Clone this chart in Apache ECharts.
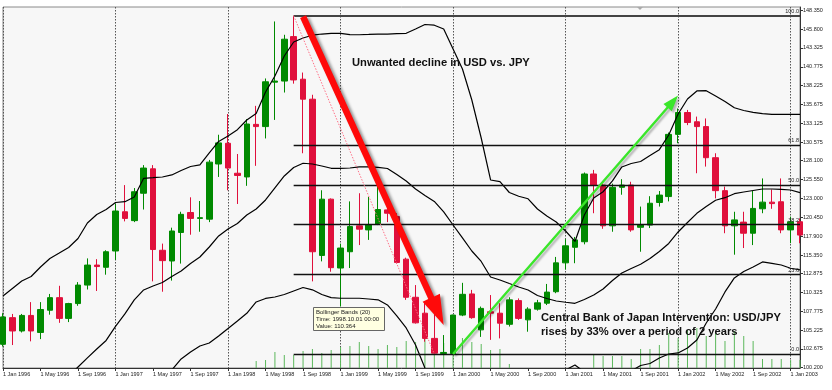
<!DOCTYPE html>
<html><head><meta charset="utf-8">
<script src="https://cdn.jsdelivr.net/npm/echarts@6/dist/echarts.min.js"></script>
<style>html,body{margin:0;padding:0;background:#fff}#c{width:832px;height:390px}</style>
</head><body><div id="c"></div>
<script>
const months = ['1996-01','1996-02','1996-03','1996-04','1996-05','1996-06','1996-07','1996-08','1996-09','1996-10','1996-11','1996-12',
'1997-01','1997-02','1997-03','1997-04','1997-05','1997-06','1997-07','1997-08','1997-09','1997-10','1997-11','1997-12',
'1998-01','1998-02','1998-03','1998-04','1998-05','1998-06','1998-07','1998-08','1998-09','1998-10','1998-11','1998-12',
'1999-01','1999-02','1999-03','1999-04','1999-05','1999-06','1999-07','1999-08','1999-09','1999-10','1999-11','1999-12',
'2000-01','2000-02','2000-03','2000-04','2000-05','2000-06','2000-07','2000-08','2000-09','2000-10','2000-11','2000-12',
'2001-01','2001-02','2001-03','2001-04','2001-05','2001-06','2001-07','2001-08','2001-09','2001-10','2001-11','2001-12',
'2002-01','2002-02','2002-03','2002-04','2002-05','2002-06','2002-07','2002-08','2002-09','2002-10','2002-11','2002-12',
'2003-01','2003-02'];

const opens = [103.3,106.9,105.1,107.2,104.9,107.9,109.6,106.8,108.8,111.3,114.0,113.7,
115.9,121.2,120.0,123.7,127.0,116.0,114.55,118.4,121.1,120.3,120.2,127.65,
130.45,126.4,125.9,133.0,132.7,138.7,138.85,144.85,139.1,136.4,115.3,122.9,
113.6,115.8,119.3,118.75,119.5,121.45,120.55,114.8,109.65,107.5,104.1,102.05,
102.05,107.25,110.1,105.25,107.7,107.5,106.0,109.2,106.6,108.05,108.85,110.4,
114.3,116.4,117.15,126.3,124.8,119.3,124.5,124.8,119.1,119.4,122.45,123.25,
131.65,134.6,133.35,132.7,128.5,124.05,119.3,119.8,118.3,121.6,122.5,122.55,
118.75,119.85];
const highs = [107.5,107.4,107.4,109.0,109.0,110.1,111.2,108.9,111.7,114.9,114.8,116.0,
122.3,124.8,124.4,127.5,127.5,116.9,119.05,121.2,123.15,122.65,128.2,131.6,
134.4,129.0,133.7,135.5,139.2,146.9,145.1,147.67,140.0,137.0,124.1,123.0,
116.9,122.6,123.7,123.2,124.8,122.9,121.0,115.0,111.3,109.05,107.9,104.55,
107.3,111.6,110.65,108.4,109.95,108.85,109.65,109.5,108.3,109.3,111.45,115.1,
117.5,117.8,126.5,126.85,125.0,125.0,125.6,125.25,121.9,123.3,124.0,131.9,
135.15,134.95,134.05,133.8,129.1,124.6,121.2,121.2,124.0,125.7,124.2,125.7,
120.55,120.3];
const lows = [103.0,103.2,104.9,103.7,104.0,107.3,106.2,106.3,108.5,110.7,110.5,112.7,
114.7,119.9,119.8,121.5,111.8,110.4,111.9,114.2,118.1,118.5,119.8,125.9,
124.1,122.25,124.7,127.4,131.1,133.6,137.3,138.5,129.1,111.8,114.5,113.1,
108.4,113.6,116.7,117.4,119.4,119.8,114.2,109.3,106.1,103.65,102.0,102.0,
102.0,107.1,106.75,104.3,103.9,104.1,105.7,106.6,105.0,107.85,108.6,110.2,
113.4,114.25,116.8,121.0,118.9,118.5,123.5,118.5,115.8,119.0,121.9,122.6,
130.45,132.9,126.4,127.3,123.0,118.3,115.4,116.3,116.7,121.0,121.6,118.3,
116.95,116.95];
const closes = [107.0,105.1,107.2,105.1,108.0,109.6,106.8,108.8,111.3,114.0,113.8,115.8,
121.3,120.3,123.9,127.1,116.1,114.6,118.6,120.85,120.3,120.4,127.9,130.5,
127.1,126.1,133.05,132.7,138.75,138.85,144.5,139.0,136.4,115.8,122.9,113.65,
116.3,119.2,118.85,119.4,121.5,121.0,114.35,109.65,106.2,104.1,102.1,102.2,
107.25,110.05,106.9,108.15,107.5,106.15,109.3,106.8,108.05,108.9,110.35,114.3,
116.6,117.4,126.3,124.8,119.3,124.5,124.8,118.75,119.4,122.35,123.45,131.65,
134.6,133.25,132.7,128.5,124.05,119.3,120.1,118.3,121.65,122.5,122.3,118.75,
119.85,118.05];

const bbUpper = [109.83,110.84,111.85,112.46,113.74,114.89,115.63,116.38,117.59,119.68,120.83,121.51,
122.45,122.56,123.19,125.72,125.80,125.89,126.17,126.77,127.31,127.52,129.14,130.69,
131.43,132.28,133.59,134.47,137.37,139.53,142.23,144.12,144.66,145.04,145.20,145.30,
145.30,145.12,145.10,145.14,145.20,145.20,145.25,145.30,145.88,146.49,146.39,145.88,
143.18,140.48,136.29,131.16,125.49,125.26,123.80,123.29,122.95,121.57,120.63,119.82,
118.60,117.19,120.76,123.06,123.90,125.36,127.25,127.72,127.99,128.80,129.58,131.57,
134.40,136.43,137.51,137.55,136.83,136.09,135.25,134.87,134.63,134.44,134.36,134.36,
134.36,134.36];
const bbMiddle = [null,null,null,null,null,null,null,99.0,100.24,101.46,102.67,103.82,
105.71,107.40,109.29,110.64,111.18,111.65,112.46,113.20,114.22,115.09,116.44,117.93,
118.87,119.62,120.76,121.57,122.79,124.41,126.03,127.18,127.75,127.65,127.38,127.07,
127.07,127.11,127.25,127.25,127.18,127.04,126.23,125.36,124.27,123.40,122.59,121.17,
119.41,117.66,115.90,114.49,112.39,111.99,111.51,111.04,110.64,109.89,109.49,109.15,
108.98,108.84,109.35,109.96,110.77,111.92,112.93,113.54,114.11,114.89,115.84,116.92,
118.47,119.75,120.99,121.91,122.75,123.10,123.64,123.87,124.07,124.27,124.27,124.21,
124.14,123.78];
const bbLower = [null,null,null,null,null,null,null,null,null,null,null,null,
null,null,null,null,null,null,99.83,101.32,102.26,103.07,103.48,104.43,
105.44,106.45,107.49,109.02,109.49,109.69,110.03,110.50,110.97,110.66,110.03,109.60,
109.52,109.52,109.52,109.42,109.31,108.61,107.13,105.51,103.21,100.10,null,null,
null,null,null,null,null,null,null,null,null,null,null,null,
99.83,100.51,99.56,null,null,null,null,99.70,100.44,100.71,101.45,101.99,
102.13,102.80,103.88,106.18,108.07,110.37,112.26,113.13,113.74,114.42,114.22,114.01,
113.57,113.34];

const volumes = [null,null,null,null,null,null,null,null,null,null,null,null,
null,null,null,null,null,null,null,null,null,null,null,null,
null,null,null,70,80,160,130,130,170,190,150,180,
210,220,260,220,190,230,210,270,260,300,270,250,
280,300,260,240,180,190,40,null,null,null,null,null,
null,null,null,130,120,120,120,90,190,190,230,350,
300,380,400,320,350,270,370,320,270,90,90,90,
80,80];

const yTickLabels = ['148.350','145.800','143.325','140.775','138.225','135.675','133.125','130.575','128.100','125.550',
'123.000','120.450','117.900','115.350','112.875','110.325','107.775','105.225','102.675','100.200'];
const fibRatios = [1, 0.618, 0.5, 0.382, 0.236, 0];
const fibLabels = ['100.0','61.8','50.0','38.2','23.6','0.0'];
const fibHighIndex = 31, fibLowIndex = 46;
const monthNames = ['Jan','Feb','Mar','Apr','May','Jun','Jul','Aug','Sep','Oct','Nov','Dec'];

const redArrow = {from: [32.45, 147.55], to: [46.5, 105.9]};
const greenArrow = {from: [48, 102.0], to: [72.3, 136.9]};

const FONT = 'Liberation Sans, Arial, sans-serif';
const chart = echarts.init(document.getElementById('c'));

const candleData = opens.map((o, i) => [o, closes[i], lows[i], highs[i]]);
const yTickValues = yTickLabels.map(Number);
const fibHigh = highs[fibHighIndex], fibLow = lows[fibLowIndex];
const fibLines = fibRatios.map((r, k) => {
  const v = fibLow + r * (fibHigh - fibLow);
  return [
    {coord: [fibHighIndex, v], lineStyle: {color: k === 0 ? '#444' : '#111', width: k === 0 ? 2 : 1.3, type: 'solid'},
     label: {show: true, formatter: fibLabels[k], position: 'insideEndTop', distance: [1, 1], fontSize: 5.5, color: '#222', fontFamily: FONT}},
    {coord: [months.length - 1, v]}
  ];
});
fibLines.push([
  {coord: [fibHighIndex, fibHigh], lineStyle: {color: '#ff6f86', width: 1, type: [1.5, 1.5]}, label: {show: false}},
  {coord: [fibLowIndex, fibLow]}
]);

chart.setOption({
  animation: false,
  backgroundColor: '#ffffff',
  grid: {left: 3, right: 32, top: 7, bottom: 22, show: true, backgroundColor: '#f7f7f7', borderColor: '#8a8a8a', borderWidth: 1},
  xAxis: {
    type: 'category', data: months, boundaryGap: false,
    axisLine: {lineStyle: {color: '#333', width: 1}},
    axisTick: {show: true, interval: 3, length: 3, lineStyle: {color: '#333'}},
    axisLabel: {interval: 3, align: 'left', margin: 3, fontSize: 5.5, color: '#222', fontFamily: FONT, hideOverlap: false,
      formatter: v => { const p = v.split('-'); return '1 ' + monthNames[+p[1] - 1] + ' ' + p[0]; }},
    splitLine: {show: true, interval: (idx) => idx % 12 === 0, lineStyle: {color: '#555', width: 1, type: [1.5, 1.5]}}
  },
  yAxis: [{
    type: 'value', position: 'right', min: 100.1, max: 148.85, scale: true,
    axisLine: {show: true, lineStyle: {color: '#333'}},
    axisTick: {show: true, length: 3, customValues: yTickValues, lineStyle: {color: '#333'}},
    axisLabel: {customValues: yTickValues, formatter: v => v.toFixed(3), fontSize: 5.5, color: '#222', fontFamily: FONT, margin: 3},
    splitLine: {show: false}
  }, {
    type: 'value', min: 0, max: 3610, show: false
  }],
  series: [
    {type: 'bar', yAxisIndex: 1, data: volumes, barWidth: 1, itemStyle: {color: '#5cb85c'}, z: 1, silent: true},
    {type: 'candlestick', data: candleData, barWidth: 6, z: 2,
      itemStyle: {color: '#008a00', color0: '#e0103c', borderColor: '#008a00', borderColor0: '#e0103c', borderWidth: 1}},
    {type: 'line', data: bbUpper, showSymbol: false, lineStyle: {color: '#000', width: 1.2}, z: 3},
    {type: 'line', data: bbMiddle, showSymbol: false, lineStyle: {color: '#000', width: 1.2}, z: 3},
    {type: 'line', data: bbLower, showSymbol: false, lineStyle: {color: '#000', width: 1.2}, z: 3,
      markLine: {silent: true, symbol: ['none', 'none'], data: fibLines, animation: false}}
  ]
});

function arrowPoints(p0, p1, w, hl, hw) {
  const dx = p1[0] - p0[0], dy = p1[1] - p0[1], L = Math.hypot(dx, dy);
  const ux = dx / L, uy = dy / L, nx = -uy, ny = ux;
  const bx = p1[0] - ux * hl, by = p1[1] - uy * hl;
  return [[p0[0] + nx * w / 2, p0[1] + ny * w / 2], [bx + nx * w / 2, by + ny * w / 2], [bx + nx * hw / 2, by + ny * hw / 2],
    [p1[0], p1[1]], [bx - nx * hw / 2, by - ny * hw / 2], [bx - nx * w / 2, by - ny * w / 2], [p0[0] - nx * w / 2, p0[1] - ny * w / 2]];
}
const px = p => chart.convertToPixel({gridIndex: 0}, p);
const r0 = px(redArrow.from), r1 = px(redArrow.to);
const g0 = px(greenArrow.from), g1 = px(greenArrow.to);

chart.setOption({
  graphic: [
    {type: 'polygon', z: 100, shape: {points: arrowPoints(r0, r1, 6.5, 30, 19)},
      style: {fill: '#ff0a0a', shadowBlur: 3, shadowColor: 'rgba(0,0,0,0.4)', shadowOffsetX: 3, shadowOffsetY: 2}},
    {type: 'polygon', z: 100, shape: {points: arrowPoints(g0, g1, 2.4, 16, 11)},
      style: {fill: '#3ae62a', shadowBlur: 2, shadowColor: 'rgba(0,0,0,0.28)', shadowOffsetX: 2, shadowOffsetY: 2}},
    {type: 'text', z: 101, left: 352, top: 57, style: {text: 'Unwanted decline in USD vs. JPY', font: 'bold 11.2px ' + FONT, fill: '#111'}},
    {type: 'text', z: 101, left: 541, top: 312, style: {text: 'Central Bank of Japan Intervention: USD/JPY', font: 'bold 11.2px ' + FONT, fill: '#111'}},
    {type: 'text', z: 101, left: 541, top: 326, style: {text: 'rises by 33% over a period of 2 years', font: 'bold 11.2px ' + FONT, fill: '#111'}},
    {type: 'group', left: 313, top: 307, z: 102, children: [
      {type: 'rect', shape: {x: 0, y: 0, width: 71, height: 23}, style: {fill: '#ffffe1', stroke: '#666', lineWidth: 1}},
      {type: 'text', style: {x: 2.5, y: 1.5, text: 'Bollinger Bands (20)\nTime: 1998.10.01 00:00\nValue: 110.364', font: '6px ' + FONT, fill: '#222', lineHeight: 7}}
    ]},
    {type: 'polygon', z: 101, shape: {points: [[637, 7], [643, 7], [640, 10]]}, style: {fill: '#aaa'}}
  ]
});
</script></body></html>
